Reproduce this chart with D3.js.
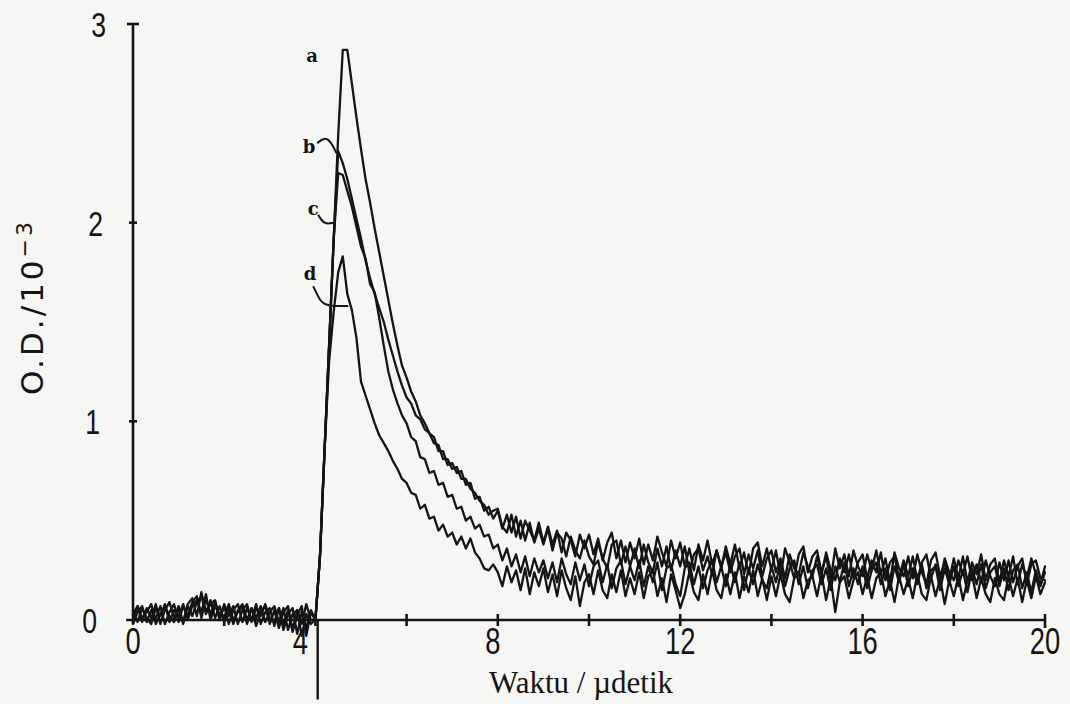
<!DOCTYPE html>
<html><head><meta charset="utf-8">
<script src="https://cdn.jsdelivr.net/npm/d3@7"></script>
<style>html,body{margin:0;padding:0;background:#f6f6f2;} svg{display:block}</style>
</head><body><svg id="chart" width="1070" height="704"></svg>
<script>
// sample times (µs)
const time = [
0.0,0.1,0.2,0.3,0.4,0.5,0.6,0.7,0.8,0.9,
1.0,1.1,1.2,1.3,1.4,1.5,1.6,1.7,1.8,1.9,
2.0,2.1,2.2,2.3,2.4,2.5,2.6,2.7,2.8,2.9,
3.0,3.1,3.2,3.3,3.4,3.5,3.6,3.7,3.8,3.9,
4.0,4.1,4.2,4.3,4.4,4.5,4.6,4.7,4.8,4.9,
5.0,5.1,5.2,5.3,5.4,5.5,5.6,5.7,5.8,5.9,
6.0,6.1,6.2,6.3,6.4,6.5,6.6,6.7,6.8,6.9,
7.0,7.1,7.2,7.3,7.4,7.5,7.6,7.7,7.8,7.9,
8.0,8.1,8.2,8.3,8.4,8.5,8.6,8.7,8.8,8.9,
9.0,9.1,9.2,9.3,9.4,9.5,9.6,9.7,9.8,9.9,
10.0,10.1,10.2,10.3,10.4,10.5,10.6,10.7,10.8,10.9,
11.0,11.1,11.2,11.3,11.4,11.5,11.6,11.7,11.8,11.9,
12.0,12.1,12.2,12.3,12.4,12.5,12.6,12.7,12.8,12.9,
13.0,13.1,13.2,13.3,13.4,13.5,13.6,13.7,13.8,13.9,
14.0,14.1,14.2,14.3,14.4,14.5,14.6,14.7,14.8,14.9,
15.0,15.1,15.2,15.3,15.4,15.5,15.6,15.7,15.8,15.9,
16.0,16.1,16.2,16.3,16.4,16.5,16.6,16.7,16.8,16.9,
17.0,17.1,17.2,17.3,17.4,17.5,17.6,17.7,17.8,17.9,
18.0,18.1,18.2,18.3,18.4,18.5,18.6,18.7,18.8,18.9,
19.0,19.1,19.2,19.3,19.4,19.5,19.6,19.7,19.8,19.9,
20.0];

// O.D. / 10^-3 for each trace
const traceA = [
0.03,0.07,-0.01,0.06,0.01,0.08,-0.02,0.05,0.09,0.01,
0.07,-0.01,0.08,0.11,0.02,0.14,0.04,0.10,0.01,0.07,
-0.01,0.06,-0.02,0.05,0.08,0.00,0.06,-0.03,0.04,0.07,
-0.02,0.05,-0.04,0.04,0.07,-0.05,0.05,-0.02,0.08,0.00,
0.00,0.32,0.85,1.38,1.91,2.44,2.87,2.87,2.70,2.53,
2.37,2.22,2.10,1.97,1.85,1.73,1.61,1.49,1.38,1.28,
1.22,1.15,1.10,1.03,0.99,0.94,0.92,0.85,0.85,0.78,
0.79,0.74,0.75,0.68,0.69,0.61,0.62,0.55,0.57,0.51,
0.55,0.46,0.53,0.44,0.52,0.41,0.50,0.45,0.40,0.49,
0.39,0.47,0.38,0.45,0.34,0.44,0.40,0.32,0.43,0.36,
0.43,0.33,0.41,0.30,0.39,0.44,0.31,0.40,0.29,0.39,
0.31,0.41,0.28,0.38,0.30,0.42,0.34,0.27,0.40,0.31,
0.39,0.27,0.36,0.25,0.38,0.30,0.40,0.28,0.35,0.26,
0.37,0.28,0.38,0.26,0.34,0.23,0.36,0.39,0.27,0.36,
0.25,0.35,0.22,0.36,0.29,0.21,0.33,0.37,0.24,0.32,
0.35,0.24,0.32,0.20,0.36,0.26,0.33,0.22,0.35,0.27,
0.22,0.33,0.25,0.35,0.23,0.31,0.19,0.34,0.26,0.22,
0.32,0.21,0.33,0.24,0.18,0.30,0.34,0.22,0.29,0.20,
0.31,0.21,0.32,0.19,0.29,0.23,0.33,0.20,0.28,0.31,
0.19,0.30,0.22,0.32,0.18,0.28,0.21,0.31,0.23,0.18,
0.27];

const traceB = [
-0.02,0.04,0.07,-0.01,0.05,0.01,0.07,-0.02,0.04,0.08,
-0.01,0.07,0.02,0.09,0.12,0.01,0.11,0.03,0.09,0.00,
0.07,-0.02,0.05,0.08,-0.01,0.06,0.00,0.08,-0.02,0.04,
0.06,-0.03,0.06,-0.05,0.03,0.06,-0.07,0.04,-0.04,0.05,
0.00,0.32,0.85,1.38,1.91,2.36,2.30,2.22,2.12,2.02,
1.92,1.81,1.72,1.64,1.57,1.50,1.41,1.33,1.25,1.18,
1.12,1.09,1.03,1.01,0.96,0.94,0.89,0.88,0.81,0.81,
0.76,0.77,0.71,0.71,0.66,0.64,0.60,0.58,0.53,0.55,
0.56,0.47,0.44,0.53,0.42,0.50,0.40,0.49,0.39,0.46,
0.38,0.46,0.35,0.44,0.41,0.32,0.42,0.35,0.31,0.40,
0.32,0.28,0.39,0.31,0.26,0.38,0.40,0.28,0.37,0.27,
0.36,0.26,0.38,0.29,0.24,0.36,0.27,0.37,0.25,0.35,
0.27,0.37,0.24,0.33,0.36,0.25,0.32,0.23,0.35,0.27,
0.34,0.24,0.32,0.36,0.23,0.33,0.26,0.35,0.22,0.31,
0.35,0.24,0.31,0.21,0.33,0.26,0.23,0.34,0.27,0.22,
0.32,0.23,0.34,0.25,0.20,0.31,0.24,0.33,0.21,0.29,
0.33,0.21,0.30,0.24,0.34,0.20,0.29,0.32,0.21,0.30,
0.22,0.32,0.20,0.29,0.33,0.21,0.28,0.19,0.31,0.24,
0.20,0.30,0.23,0.32,0.20,0.28,0.19,0.30,0.22,0.17,
0.29,0.20,0.30,0.19,0.27,0.31,0.18,0.28,0.30,0.21,
0.20];

const traceC = [
0.05,-0.01,0.06,0.01,-0.02,0.06,0.02,0.08,-0.01,0.05,
0.02,0.08,0.00,0.07,0.10,0.04,0.13,0.00,0.07,0.03,
0.01,0.08,0.00,0.04,0.07,-0.02,0.06,0.01,0.07,-0.01,
0.04,0.07,-0.01,0.06,-0.05,0.03,0.05,-0.08,0.03,-0.02,
0.00,0.32,0.85,1.38,1.91,2.25,2.24,2.16,2.08,1.98,
1.88,1.82,1.69,1.65,1.52,1.38,1.25,1.16,1.09,1.03,
0.99,0.92,0.90,0.82,0.81,0.74,0.75,0.68,0.69,0.62,
0.63,0.56,0.57,0.50,0.52,0.46,0.48,0.42,0.43,0.36,
0.38,0.30,0.36,0.27,0.33,0.24,0.32,0.22,0.31,0.24,
0.30,0.21,0.29,0.19,0.31,0.23,0.18,0.29,0.20,0.28,
0.17,0.27,0.30,0.19,0.28,0.16,0.26,0.30,0.18,0.27,
0.20,0.30,0.17,0.27,0.19,0.29,0.15,0.26,0.28,0.18,
0.12,0.26,0.29,0.18,0.27,0.16,0.25,0.30,0.19,0.27,
0.17,0.28,0.19,0.29,0.15,0.26,0.18,0.28,0.20,0.16,
0.27,0.19,0.29,0.17,0.26,0.30,0.18,0.27,0.16,0.25,
0.28,0.18,0.26,0.15,0.27,0.19,0.29,0.17,0.26,0.18,
0.27,0.16,0.25,0.29,0.18,0.26,0.15,0.27,0.19,0.28,
0.17,0.26,0.18,0.28,0.16,0.25,0.27,0.15,0.26,0.18,
0.27,0.17,0.25,0.14,0.26,0.18,0.28,0.16,0.24,0.27,
0.17,0.26,0.15,0.25,0.28,0.16,0.24,0.14,0.25,0.17,
0.24];

const traceD = [
0.00,0.07,0.01,0.04,0.08,-0.02,0.03,0.07,0.02,-0.01,
0.06,-0.02,0.07,0.02,0.09,0.12,0.03,0.08,0.10,0.01,
0.08,0.02,0.07,-0.02,0.05,0.08,-0.01,0.06,0.02,0.08,
0.01,-0.01,0.06,-0.02,0.05,-0.06,0.02,0.07,-0.08,0.04,
0.00,0.32,0.85,1.30,1.55,1.75,1.83,1.64,1.56,1.42,
1.20,1.13,1.06,0.99,0.93,0.89,0.85,0.80,0.76,0.71,
0.69,0.64,0.63,0.56,0.58,0.51,0.52,0.45,0.48,0.42,
0.44,0.38,0.42,0.36,0.41,0.34,0.31,0.26,0.25,0.28,
0.24,0.17,0.27,0.19,0.25,0.15,0.26,0.13,0.24,0.17,
0.26,0.14,0.23,0.12,0.25,0.16,0.10,0.22,0.07,0.19,
0.23,0.13,0.25,0.15,0.11,0.23,0.14,0.25,0.12,0.21,
0.13,0.24,0.11,0.22,0.25,0.12,0.21,0.09,0.23,0.15,
0.06,0.13,0.24,0.14,0.10,0.23,0.13,0.25,0.15,0.11,
0.23,0.13,0.24,0.11,0.22,0.14,0.25,0.12,0.21,0.10,
0.22,0.12,0.23,0.13,0.09,0.21,0.24,0.11,0.20,0.22,
0.12,0.23,0.10,0.21,0.04,0.19,0.22,0.11,0.20,0.24,
0.13,0.22,0.11,0.21,0.24,0.12,0.20,0.09,0.22,0.13,
0.21,0.11,0.23,0.13,0.10,0.22,0.12,0.21,0.08,0.20,
0.12,0.22,0.10,0.20,0.23,0.11,0.21,0.13,0.09,0.21,
0.13,0.10,0.22,0.12,0.21,0.09,0.20,0.11,0.22,0.13,
0.19];

const seriesNames = ["a", "b", "c", "d"];
const seriesValues = [traceA, traceB, traceC, traceD];

// label anchors (data units) and leader hooks (data units)
const labelTime = [3.93, 3.86, 3.95, 3.88];
const labelValue = [2.84, 2.38, 2.07, 1.74];
const hookB = [[4.04, 2.40], [4.19, 2.43], [4.34, 2.41], [4.46, 2.35]];
const hookC = [[4.06, 2.04], [4.19, 1.99], [4.40, 2.00]];
const hookD = [[3.95, 1.68], [4.06, 1.63], [4.16, 1.58], [4.72, 1.58]];
const hooks = [null, hookB, hookC, hookD];

const xTicks = [2, 4, 6, 8, 10, 12, 14, 16, 18, 20];
const xTickLabels = [0, 4, 8, 12, 16, 20];
const yTicks = [1, 2, 3];
const yTickLabels = [0, 1, 2, 3];
const triggerTime = 4.05, triggerLow = -0.40;

const svg = d3.select("#chart");
svg.append("rect").attr("width", 1070).attr("height", 704).attr("fill", "#f6f6f2");

const x = d3.scaleLinear().domain([0, 20]).range([133, 1045]);
const y = d3.scaleLinear().domain([0, 3]).range([620, 24]);
const ink = "#141414";
const numFont = "'Liberation Sans',Arial,sans-serif";

// axes
const ax = svg.append("g").attr("stroke", ink).attr("stroke-width", 2.6).attr("fill", "none");
ax.append("line").attr("x1", x(-0.15)).attr("x2", x(20)).attr("y1", y(0)).attr("y2", y(0));
ax.append("line").attr("x1", x(0)).attr("x2", x(0)).attr("y1", y(0) + 4).attr("y2", y(3));
ax.selectAll(".xt").data(xTicks).join("line")
  .attr("x1", d => x(d)).attr("x2", d => x(d))
  .attr("y1", y(0) - 6).attr("y2", d => y(0) + (d === 20 ? 8 : 6));
ax.selectAll(".yt").data(yTicks).join("line")
  .attr("x1", d => x(0) - (d === 3 ? 6 : 4)).attr("x2", d => x(0) + (d === 3 ? 6 : 4))
  .attr("y1", d => y(d)).attr("y2", d => y(d));

// trigger marker below axis
ax.append("line").attr("x1", x(triggerTime)).attr("x2", x(triggerTime))
  .attr("y1", y(triggerLow)).attr("y2", y(0)).attr("stroke-width", 2.4);

// tick labels (condensed digits)
svg.selectAll(".xl").data(xTickLabels).join("text")
  .attr("transform", d => `translate(${x(d) + (d === 4 ? -15 : (d === 8 ? -5 : 0))},654) scale(0.74,1)`)
  .attr("text-anchor", "middle")
  .attr("font-family", numFont).attr("font-size", 37).attr("fill", ink)
  .text(d => d);
svg.selectAll(".yl").data(yTickLabels).join("text")
  .attr("transform", d => `translate(${106 - (3 - d) * 3},${y(d) + 13}) scale(0.74,1)`)
  .attr("text-anchor", "end")
  .attr("font-family", numFont).attr("font-size", 36).attr("fill", ink)
  .text(d => d);

// axis titles
const yt = svg.append("text")
  .attr("transform", "translate(43,307) rotate(-90)")
  .attr("text-anchor", "middle")
  .attr("font-family", "'DejaVu Sans',sans-serif").attr("font-size", 31)
  .attr("letter-spacing", 3).attr("fill", ink);
yt.append("tspan").text("O.D./10");
yt.append("tspan").attr("dy", -11).attr("font-size", 22).text("−3");

svg.append("text")
  .attr("x", 581).attr("y", 693)
  .attr("text-anchor", "middle")
  .attr("font-family", "'Liberation Serif','Times New Roman',serif")
  .attr("font-size", 31).attr("fill", ink)
  .text("Waktu / µdetik");

// traces
const line = d3.line().x((d, i) => x(time[i])).y(d => y(d));
svg.append("g").selectAll("path").data(seriesValues).join("path")
  .attr("d", d => line(d))
  .attr("fill", "none").attr("stroke", ink).attr("stroke-width", 2.3)
  .attr("stroke-linejoin", "round").attr("stroke-linecap", "round");

// labels + leader hooks
const hookLine = d3.line().x(d => x(d[0])).y(d => y(d[1])).curve(d3.curveBasis);
svg.append("g").selectAll("path").data(hooks.filter(h => h)).join("path")
  .attr("d", d => hookLine(d))
  .attr("fill", "none").attr("stroke", ink).attr("stroke-width", 2);
svg.selectAll(".lab").data(seriesNames).join("text")
  .attr("x", (d, i) => x(labelTime[i]))
  .attr("y", (d, i) => y(labelValue[i]) + 6)
  .attr("text-anchor", "middle")
  .attr("font-family", "'DejaVu Serif',serif").attr("font-weight", "bold")
  .attr("font-size", 18).attr("fill", ink)
  .text(d => d);
</script></body></html>
